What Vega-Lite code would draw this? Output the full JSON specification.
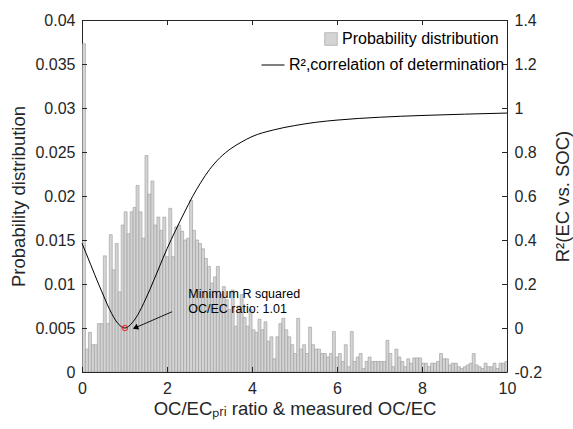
{
  "$schema": "https://vega.github.io/schema/vega-lite/v6.json",
  "width": 425,
  "height": 352,
  "autosize": {"type": "none"},
  "padding": {"left": 82, "top": 20, "right": 66, "bottom": 57},
  "background": "white",
  "config": {
    "view": {"stroke": null},
    "font": "Liberation Sans",
    "axis": {
      "labelFont": "Liberation Sans",
      "titleFont": "Liberation Sans",
      "labelFontSize": 16,
      "titleFontSize": 18.5,
      "titleFontWeight": "normal",
      "labelColor": "#262626",
      "titleColor": "#262626",
      "domainColor": "#262626",
      "tickColor": "#262626",
      "domainWidth": 1,
      "grid": false,
      "ticks": false,
      "zindex": 1
    },
    "legend": {"labelFont": "Liberation Sans", "labelFontSize": 16, "labelColor": "black", "labelLimit": 400}
  },
  "datasets": {
    "hist": [
      {"x":0,"p":0.0373},{"x":0.07,"p":0.0026},{"x":0.14,"p":0.0045},{"x":0.21,"p":0.0031},{"x":0.28,"p":0.0031},{"x":0.35,"p":0.0055},{"x":0.42,"p":0.0055},{"x":0.49,"p":0.0132},{"x":0.56,"p":0.0055},{"x":0.63,"p":0.0156},
      {"x":0.7,"p":0.0116},{"x":0.77,"p":0.0146},{"x":0.84,"p":0.0091},{"x":0.91,"p":0.0167},{"x":0.98,"p":0.0182},{"x":1.05,"p":0.0157},{"x":1.12,"p":0.0182},{"x":1.19,"p":0.0187},{"x":1.26,"p":0.0212},{"x":1.33,"p":0.0182},
      {"x":1.4,"p":0.0152},{"x":1.47,"p":0.0246},{"x":1.54,"p":0.0202},{"x":1.61,"p":0.0217},{"x":1.68,"p":0.0167},{"x":1.75,"p":0.0176},{"x":1.82,"p":0.0161},{"x":1.89,"p":0.0176},{"x":1.96,"p":0.0131},{"x":2.03,"p":0.0186},
      {"x":2.1,"p":0.0131},{"x":2.17,"p":0.0165},{"x":2.24,"p":0.0167},{"x":2.31,"p":0.016},{"x":2.38,"p":0.015},{"x":2.45,"p":0.0152},{"x":2.52,"p":0.0195},{"x":2.59,"p":0.0161},{"x":2.66,"p":0.015},{"x":2.73,"p":0.0146},
      {"x":2.8,"p":0.014},{"x":2.87,"p":0.0129},{"x":2.94,"p":0.012},{"x":3.01,"p":0.0101},{"x":3.08,"p":0.0108},{"x":3.15,"p":0.012},{"x":3.22,"p":0.0088},{"x":3.29,"p":0.0097},{"x":3.36,"p":0.0082},{"x":3.43,"p":0.0071},
      {"x":3.5,"p":0.0093},{"x":3.57,"p":0.0052},{"x":3.64,"p":0.0075},{"x":3.71,"p":0.0088},{"x":3.78,"p":0.0062},{"x":3.85,"p":0.0052},{"x":3.92,"p":0.0071},{"x":3.99,"p":0.0048},{"x":4.06,"p":0.0045},{"x":4.13,"p":0.006},
      {"x":4.2,"p":0.0048},{"x":4.27,"p":0.0057},{"x":4.34,"p":0.0035},{"x":4.41,"p":0.004},{"x":4.48,"p":0.0015},{"x":4.55,"p":0.004},{"x":4.62,"p":0.0055},{"x":4.69,"p":0.0061},{"x":4.76,"p":0.0048},{"x":4.83,"p":0.004},
      {"x":4.9,"p":0.0031},{"x":4.97,"p":0.0021},{"x":5.04,"p":0.0061},{"x":5.11,"p":0.0026},{"x":5.18,"p":0.0031},{"x":5.25,"p":0.0021},{"x":5.32,"p":0.0051},{"x":5.39,"p":0.0031},{"x":5.46,"p":0.0026},{"x":5.53,"p":0.0026},
      {"x":5.6,"p":0.0021},{"x":5.67,"p":0.0021},{"x":5.74,"p":0.0017},{"x":5.81,"p":0.0021},{"x":5.88,"p":0.0046},{"x":5.95,"p":0.0017},{"x":6.02,"p":0.0021},{"x":6.09,"p":0.0012},{"x":6.16,"p":0.0031},{"x":6.23,"p":0.0006},
      {"x":6.3,"p":0.0046},{"x":6.37,"p":0.0012},{"x":6.44,"p":0.0017},{"x":6.51,"p":0.0021},{"x":6.58,"p":0.0004},{"x":6.65,"p":0.0012},{"x":6.72,"p":0.0017},{"x":6.79,"p":0.0012},{"x":6.86,"p":0.0012},{"x":6.93,"p":0.0012},
      {"x":7,"p":0.0012},{"x":7.07,"p":0.0012},{"x":7.14,"p":0.0036},{"x":7.21,"p":0.0021},{"x":7.28,"p":0.0006},{"x":7.35,"p":0.0026},{"x":7.42,"p":0.0017},{"x":7.49,"p":0.0012},{"x":7.56,"p":0.0006},{"x":7.63,"p":0.0015},
      {"x":7.7,"p":0.001},{"x":7.77,"p":0.0016},{"x":7.84,"p":0.0016},{"x":7.91,"p":0.0016},{"x":7.98,"p":0.001},{"x":8.05,"p":0.001},{"x":8.12,"p":0.0006},{"x":8.19,"p":0.001},{"x":8.26,"p":0.001},{"x":8.33,"p":0.0012},
      {"x":8.4,"p":0.0021},{"x":8.47,"p":0.0015},{"x":8.54,"p":0.0015},{"x":8.61,"p":0.0008},{"x":8.68,"p":0.001},{"x":8.75,"p":0.001},{"x":8.82,"p":0.0006},{"x":8.89,"p":0.0004},{"x":8.96,"p":0.0006},{"x":9.03,"p":0.0008},
      {"x":9.1,"p":0.001},{"x":9.17,"p":0.0021},{"x":9.24,"p":0.0008},{"x":9.31,"p":0.0006},{"x":9.38,"p":0.0004},{"x":9.45,"p":0.001},{"x":9.52,"p":0.0006},{"x":9.59,"p":0.0006},{"x":9.66,"p":0.001},{"x":9.73,"p":0.0004},
      {"x":9.8,"p":0.001},{"x":9.87,"p":0.001},{"x":9.94,"p":0.0012}
    ],
    "r2": [
      {"x":0,"r":0.385},{"x":0.1,"r":0.338},{"x":0.2,"r":0.29},{"x":0.3,"r":0.242},{"x":0.4,"r":0.195},{"x":0.5,"r":0.15},{"x":0.6,"r":0.105},{"x":0.7,"r":0.065},{"x":0.8,"r":0.032},{"x":0.9,"r":0.01},
      {"x":1.01,"r":0},{"x":1.1,"r":0.008},{"x":1.2,"r":0.028},{"x":1.3,"r":0.056},{"x":1.4,"r":0.092},{"x":1.5,"r":0.133},{"x":1.6,"r":0.176},{"x":1.7,"r":0.222},{"x":1.8,"r":0.268},{"x":1.9,"r":0.315},
      {"x":2,"r":0.36},{"x":2.2,"r":0.443},{"x":2.4,"r":0.522},{"x":2.6,"r":0.597},{"x":2.8,"r":0.663},{"x":3,"r":0.72},{"x":3.25,"r":0.775},{"x":3.5,"r":0.815},{"x":3.75,"r":0.845},{"x":4,"r":0.87},
      {"x":4.5,"r":0.9},{"x":5,"r":0.92},{"x":5.5,"r":0.935},{"x":6,"r":0.945},{"x":7,"r":0.958},{"x":8,"r":0.966},{"x":9,"r":0.972},{"x":10,"r":0.977}
    ],
    "minpt": [{"x":1.01,"r":0}],
    "note": [{"x":2.5,"r":0.153,"label":"Minimum R squared"},{"x":2.5,"r":0.088,"label":"OC/EC ratio: 1.01"}],
    "arrow": [{"x":2.12,"r":0.074,"x2":1.256,"r2":0.0014}],
    "head": [{"x":1.256,"r":0.0014}],
    "frame": [{"x":0,"x2":10,"r":1.4}],
    "xticks": [{"v":0},{"v":2},{"v":4},{"v":6},{"v":8},{"v":10}],
    "yticks": [{"v":-0.2},{"v":0},{"v":0.2},{"v":0.4},{"v":0.6},{"v":0.8},{"v":1},{"v":1.2},{"v":1.4}]
  },
  "resolve": {"scale": {"x": "independent", "y": "independent"}, "axis": {"x": "independent", "y": "independent"}},
  "layer": [
    {
      "data": {"name": "hist"},
      "mark": {"type": "bar", "stroke": "#9a9a9a", "strokeWidth": 0.6, "clip": true, "binSpacing": 0},
      "encoding": {
        "x": {
          "field": "x", "type": "quantitative", "bin": {"binned": true, "step": 0.07},
          "scale": {"domain": [0, 10], "nice": false},
          "axis": {"orient": "bottom", "values": [0, 2, 4, 6, 8, 10], "labelExpr": "format(datum.value, 'd')", "labelPadding": 8, "titlePadding": 3,
                   "title": "OC/ECₚᵣᵢ ratio & measured OC/EC", "labelFlush": false}
        },
        "y": {
          "field": "p", "type": "quantitative",
          "scale": {"domain": [0, 0.04], "nice": false},
          "axis": {"orient": "left", "values": [0, 0.005, 0.01, 0.015, 0.02, 0.025, 0.03, 0.035, 0.04],
                   "format": ".3~f", "labelPadding": 7, "titlePadding": 6, "title": "Probability distribution", "labelFlush": false}
        },
        "fill": {
          "datum": "Probability distribution",
          "scale": {"range": ["#d4d4d4"]},
          "legend": {"orient": "none", "legendX": 241, "legendY": 11, "title": null, "symbolType": "square", "symbolSize": 160,
                     "symbolStrokeColor": "#9a9a9a", "symbolStrokeWidth": 0.6, "padding": 0, "labelOffset": 3}
        }
      }
    },
    {
      "data": {"name": "r2"},
      "mark": {"type": "line", "strokeWidth": 1, "interpolate": "monotone"},
      "encoding": {
        "x": {"field": "x", "type": "quantitative", "scale": {"domain": [0, 10], "nice": false}, "axis": null},
        "y": {"field": "r", "type": "quantitative", "scale": {"domain": [-0.2, 1.4], "nice": false},
              "axis": {"orient": "right", "values": [-0.2, 0, 0.2, 0.4, 0.6, 0.8, 1, 1.2, 1.4],
                       "labelExpr": "datum.value < 0 ? '-' + format(-datum.value, '.1~f') : format(datum.value, '.1~f')",
                       "labelPadding": 7, "titlePadding": 12, "title": "R²(EC vs. SOC)", "titleAngle": 270, "titleBaseline": "top", "labelFlush": false}},
        "stroke": {
          "datum": "R²,correlation of determination",
          "scale": {"range": ["black"]},
          "legend": {"orient": "none", "legendX": 179, "legendY": 33, "title": null, "symbolType": "stroke", "symbolSize": 529,
                     "symbolStrokeWidth": 1, "padding": 0, "labelOffset": 4}
        }
      }
    },
    {
      "data": {"name": "frame"},
      "mark": {"type": "rule", "color": "#262626", "strokeWidth": 1, "yOffset": 0.5},
      "encoding": {
        "x": {"field": "x", "type": "quantitative", "scale": {"domain": [0, 10], "nice": false}, "axis": null},
        "x2": {"field": "x2"},
        "y": {"field": "r", "type": "quantitative", "scale": {"domain": [-0.2, 1.4], "nice": false}, "axis": null}
      }
    },
    {
      "data": {"name": "xticks"},
      "mark": {"type": "rule", "color": "#262626", "strokeWidth": 1, "xOffset": 0.5},
      "encoding": {
        "x": {"field": "v", "type": "quantitative", "scale": {"domain": [0, 10], "nice": false}, "axis": null},
        "y": {"datum": -0.2, "type": "quantitative", "scale": {"domain": [-0.2, 1.4], "nice": false}, "axis": null},
        "y2": {"datum": -0.177}
      }
    },
    {
      "data": {"name": "xticks"},
      "mark": {"type": "rule", "color": "#262626", "strokeWidth": 1, "xOffset": 0.5},
      "encoding": {
        "x": {"field": "v", "type": "quantitative", "scale": {"domain": [0, 10], "nice": false}, "axis": null},
        "y": {"datum": 1.4, "type": "quantitative", "scale": {"domain": [-0.2, 1.4], "nice": false}, "axis": null},
        "y2": {"datum": 1.377}
      }
    },
    {
      "data": {"name": "yticks"},
      "mark": {"type": "rule", "color": "#262626", "strokeWidth": 1, "yOffset": 0.5},
      "encoding": {
        "y": {"field": "v", "type": "quantitative", "scale": {"domain": [-0.2, 1.4], "nice": false}, "axis": null},
        "x": {"datum": 0, "type": "quantitative", "scale": {"domain": [0, 10], "nice": false}, "axis": null},
        "x2": {"datum": 0.118}
      }
    },
    {
      "data": {"name": "yticks"},
      "mark": {"type": "rule", "color": "#262626", "strokeWidth": 1, "yOffset": 0.5},
      "encoding": {
        "y": {"field": "v", "type": "quantitative", "scale": {"domain": [-0.2, 1.4], "nice": false}, "axis": null},
        "x": {"datum": 10, "type": "quantitative", "scale": {"domain": [0, 10], "nice": false}, "axis": null},
        "x2": {"datum": 9.882}
      }
    },
    {
      "data": {"name": "minpt"},
      "mark": {"type": "point", "shape": "circle", "filled": false, "stroke": "red", "strokeWidth": 1.2, "size": 28},
      "encoding": {
        "x": {"field": "x", "type": "quantitative", "scale": {"domain": [0, 10], "nice": false}, "axis": null},
        "y": {"field": "r", "type": "quantitative", "scale": {"domain": [-0.2, 1.4], "nice": false}, "axis": null}
      }
    },
    {
      "data": {"name": "note"},
      "mark": {"type": "text", "align": "left", "baseline": "middle", "fontSize": 12.5, "color": "black", "font": "Liberation Sans"},
      "encoding": {
        "x": {"field": "x", "type": "quantitative", "scale": {"domain": [0, 10], "nice": false}, "axis": null},
        "y": {"field": "r", "type": "quantitative", "scale": {"domain": [-0.2, 1.4], "nice": false}, "axis": null},
        "text": {"field": "label"}
      }
    },
    {
      "data": {"name": "arrow"},
      "mark": {"type": "rule", "color": "black", "strokeWidth": 0.9},
      "encoding": {
        "x": {"field": "x", "type": "quantitative", "scale": {"domain": [0, 10], "nice": false}, "axis": null},
        "y": {"field": "r", "type": "quantitative", "scale": {"domain": [-0.2, 1.4], "nice": false}, "axis": null},
        "x2": {"field": "x2"},
        "y2": {"field": "r2"}
      }
    },
    {
      "data": {"name": "head"},
      "mark": {"type": "point", "shape": "triangle-up", "filled": true, "color": "black", "size": 40, "angle": 246, "opacity": 1},
      "encoding": {
        "x": {"field": "x", "type": "quantitative", "scale": {"domain": [0, 10], "nice": false}, "axis": null},
        "y": {"field": "r", "type": "quantitative", "scale": {"domain": [-0.2, 1.4], "nice": false}, "axis": null}
      }
    }
  ]
}
